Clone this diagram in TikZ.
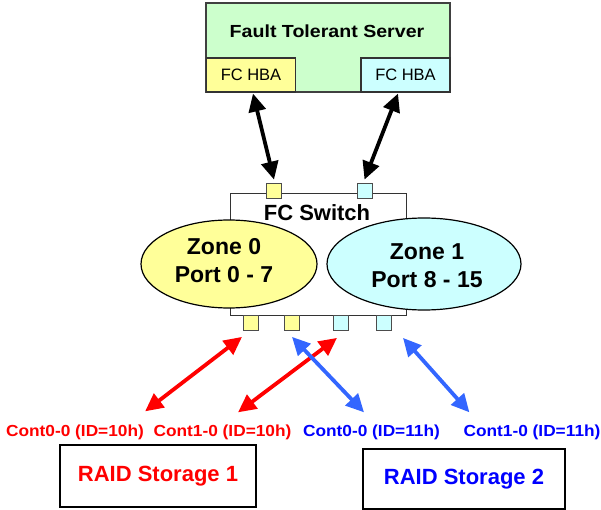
\documentclass[tikz,border=0pt]{standalone}
\usepackage{fontspec}
\setmainfont{Liberation Sans}
\usetikzlibrary{arrows.meta,shapes.geometric}
\definecolor{serverfill}{RGB}{204,255,204}
\definecolor{zoneyellow}{RGB}{255,255,153}
\definecolor{zonecyan}{RGB}{204,255,255}
\definecolor{linkred}{RGB}{255,0,0}
\definecolor{linkblue}{RGB}{51,102,255}
\definecolor{textblue}{RGB}{0,0,255}
\newcommand{\setfs}[1]{\fontsize{#1}{1.22\dimexpr#1pt\relax}\selectfont}
\newcommand{\widetext}[2]{\scalebox{#1}[1]{#2}}

\begin{document}
\begin{tikzpicture}[x=1pt,y=-1pt,
    hba/.style={draw=black!80,line width=1.1pt,minimum width=89pt,minimum height=34pt,inner sep=0pt,font=\setfs{16.5}},
    zone/.style={ellipse,draw=black,line width=1.2pt,inner sep=0pt},
    port/.style={draw=black!70,line width=0.8pt,minimum size=15pt,inner sep=0pt},
    lbl/.style={font=\setfs{16}\bfseries,inner sep=0pt},
    raid/.style={draw=black,line width=1.6pt,inner sep=0pt,font=\setfs{22}\bfseries},
    dlink/.style={line width=3.8pt,{Triangle[length=18pt,width=17pt]}-{Triangle[length=18pt,width=17pt]}}]
  \useasboundingbox (0,0) rectangle (601,510);
  \node[draw=black!75,line width=1.2pt,fill=serverfill,minimum width=244pt,minimum height=89pt] (server) at (328,47.5) {};
  \node[font=\setfs{17.5}\bfseries] (servertitle) at (327,31) {\widetext{1.12}{Fault Tolerant Server}};
  \node[hba,fill=zoneyellow] (hbaL) at (251,75) {FC HBA};
  \node[hba,fill=zonecyan] (hbaR) at (405.5,75) {FC HBA};
  \node[draw=black!80,line width=1pt,fill=white,minimum width=176pt,minimum height=121pt] (switch) at (318,254.5) {};
  \node[font=\setfs{22}\bfseries] (switchtitle) at (317,213) {FC Switch};
  \node[zone,fill=zoneyellow,minimum width=176pt,minimum height=88pt] (zone0) at (229,264) {};
  \node[zone,fill=zonecyan,minimum width=194pt,minimum height=92pt] (zone1) at (424,264) {};
  \node[font=\setfs{23}\bfseries,align=center] (zone0text) at (224,260.5) {Zone 0\\Port 0 - 7};
  \node[font=\setfs{23}\bfseries,align=center] (zone1text) at (427,265.5) {Zone 1\\Port 8 - 15};
  \node[port,fill=zoneyellow] (pt1) at (274,190.5) {};
  \node[port,fill=zonecyan] (pt2) at (364.5,190.5) {};
  \foreach \n/\x/\c in {1/251/zoneyellow,2/292/zoneyellow,3/341/zonecyan,4/384/zonecyan}
    \node[port,fill=\c] (pb\n) at (\x,323) {};
  \node[lbl,text=linkred] (c00a) at (75,432) {\widetext{1.08}{Cont0-0 (ID=10h)}};
  \node[lbl,text=linkred] (c10a) at (222.5,432) {\widetext{1.08}{Cont1-0 (ID=10h)}};
  \node[lbl,text=textblue] (c00b) at (371.5,432) {\widetext{1.08}{Cont0-0 (ID=11h)}};
  \node[lbl,text=textblue] (c10b) at (532,432) {\widetext{1.08}{Cont1-0 (ID=11h)}};
  \node[raid,text=linkred,minimum width=196pt,minimum height=62pt] (raid1) at (158,476) {RAID Storage 1};
  \node[raid,text=textblue,minimum width=202pt,minimum height=60pt] (raid2) at (464,479) {RAID Storage 2};
  \draw[dlink,black] ([xshift=2pt,yshift=-1pt]hbaL.south) -- ([yshift=3pt]pt1.north);
  \draw[dlink,black] ([xshift=-7.5pt,yshift=-1pt]hbaR.south) -- ([yshift=3pt]pt2.north);
  \draw[dlink,linkred] ([xshift=-9pt,yshift=-6pt]pb1.south) -- ([xshift=1pt,yshift=13pt]c00a.north east);
  \draw[dlink,linkred] ([xshift=-4pt,yshift=-7pt]pb3.south) -- ([xshift=15.5pt,yshift=12pt]c10a.north);
  \draw[dlink,linkblue] ([yshift=-6pt]pb2.south) -- ([xshift=-7.5pt,yshift=12pt]c00b.north);
  \draw[dlink,linkblue] ([xshift=19pt,yshift=-7pt]pb4.south) -- ([xshift=6pt,yshift=12pt]c10b.north west);
\end{tikzpicture}
\end{document}
